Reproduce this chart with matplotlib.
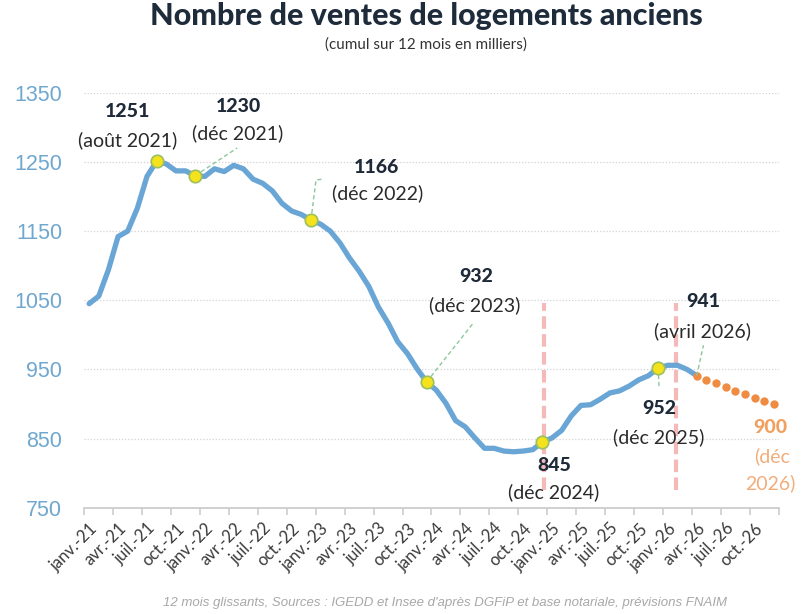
import matplotlib
matplotlib.use('Agg')
import matplotlib.pyplot as plt
import numpy as np

plt.rcParams['font.family'] = ['Lato', 'DejaVu Sans']

# tick labels every quarter, jan 2021 -> oct 2026
mois = []
for an in range(21, 27):
    for m in ['janv.', 'avr.', 'juil.', 'oct.']:
        mois.append(f"{m}-{an}")

# cumul 12 mois (milliers), janv. 2021 -> avril 2026
ventes = [1045, 1056, 1094, 1142, 1150, 1183, 1229, 1251, 1247, 1237, 1237, 1230,
          1229, 1240, 1236, 1245, 1240, 1225, 1219, 1208, 1190, 1179, 1174, 1166,
          1160, 1150, 1133, 1111, 1092, 1070, 1040, 1017, 990, 973, 951, 932,
          920, 901, 876, 867, 851, 836, 836, 832, 831, 832, 834, 845,
          851, 862, 883, 898, 899, 907, 916, 919, 926, 935, 941, 952,
          956, 956, 950, 941]

# prévision FNAIM, avril 2026 -> déc 2026
prevision = [941, 935, 930, 924, 919, 915, 909, 905, 900]
debut_prev = 63

# points annotés (index du mois)
points_jaunes = [7, 11, 23, 35, 47, 59]
notes_valeur = ['1251', '1230', '1166', '932', '845', '952', '941']
notes_date = ['(août 2021)', '(déc 2021)', '(déc 2022)', '(déc 2023)',
              '(déc 2024)', '(déc 2025)', '(avril 2026)']
# positions des textes (mois, valeur) : chiffre, puis date
pos_valeur = [(3.98, 1323), (15.44, 1330), (29.77, 1242), (40.1, 1085),
              (48.2, 811), (59.1, 894), (63.7, 1048)]
pos_date = [(3.98, 1282), (15.44, 1291), (29.9, 1205), (40.0, 1043),
            (48.2, 772), (59.1, 852), (63.6, 1005)]

navy = '#1e2a38'
bleu = '#6aa6d5'
orange = '#ef8c42'

fig = plt.figure(figsize=(8.1, 6.14), dpi=100)
ax = fig.add_axes([84.3 / 810, 106.2 / 614, 694.4 / 810, 415.1 / 614])

ax.set_xlim(-0.5, 71.5)
ax.set_ylim(750, 1350)

# grille et axes
ax.set_yticks(range(750, 1351, 100))
ax.yaxis.grid(True, linestyle=(0, (1, 1.5)), color='#d3d3d3', lw=0.9)
ax.set_axisbelow(True)
for s in ['top', 'right', 'left']:
    ax.spines[s].set_visible(False)
ax.spines['bottom'].set_color('#cdcdcd')
ax.spines['bottom'].set_linewidth(1.3)

ax.tick_params(axis='y', length=0, pad=16, labelsize=15.5, labelcolor='#6fa7cf')
for lbl in ax.get_yticklabels():
    lbl.set_family('Liberation Sans')

ax.set_xticks(np.arange(-0.5, 72, 3))
ax.set_xticklabels([])
ax.tick_params(axis='x', which='major', length=5, color='#cdcdcd', width=1.2)
ax.set_xticks(np.arange(0, 72, 3), minor=True)
ax.set_xticklabels(mois, minor=True, rotation=45, ha='right', va='top',
                   rotation_mode='anchor')
ax.tick_params(axis='x', which='minor', length=0, pad=9, labelsize=12,
               labelcolor='#3a3a3a')

# lignes verticales roses
ax.vlines([47.2, 60.9], 776, 1046, colors='#f5b9b9', lw=3,
          linestyles=(0, (3, 1.3)), zorder=2)

# courbe
x = np.arange(len(ventes))
ax.plot(x, ventes, color=bleu, lw=3.8, solid_capstyle='round',
        solid_joinstyle='round', zorder=3)

# prévision en pointillés
xp = np.arange(debut_prev, debut_prev + len(prevision))
ax.plot(xp, prevision, ls='none', marker='o', ms=5, color=orange, zorder=4)

# points jaunes
ax.plot(points_jaunes, [ventes[i] for i in points_jaunes], ls='none', marker='o',
        ms=9, mfc='#f4e21c', mec='#9cc05f', mew=1.2, zorder=5)

# traits de rappel
vert = '#8cc79c'
rappel = [(11, [(15.34, 1270)]),
          (23, [(23.53, 1224), (24.25, 1225)]),
          (35, [(39.83, 1017)]),
          (59, [(59.1, 923)]),
          (63, [(63.7, 985)])]
for i, pts in rappel:
    xs = [i] + [p[0] for p in pts]
    ys = [ventes[i]] + [p[1] for p in pts]
    ax.plot(xs, ys, color=vert, lw=1, dashes=(3, 2), zorder=4)

# annotations
for v, d, pv, pd in zip(notes_valeur, notes_date, pos_valeur, pos_date):
    ax.text(pv[0], pv[1], v, ha='center', va='center', fontsize=14,
            fontweight='black', color=navy, zorder=6)
    ax.text(pd[0], pd[1], d, ha='center', va='center', fontsize=14,
            color='#2a2a2a', zorder=6)

ax.text(70.6, 866, str(prevision[-1]), ha='center', va='center', fontsize=14,
        fontweight='black', color='#f0a060', zorder=6)
ax.text(70.85, 824, '(déc', ha='center', va='center', fontsize=14,
        color='#f2ad7a', zorder=6)
ax.text(70.6, 786, '2026)', ha='center', va='center', fontsize=14,
        color='#f2ad7a', zorder=6)

# titres
fig.text(426 / 810, 1 - 16 / 614, 'Nombre de ventes de logements anciens',
         ha='center', va='center', fontsize=22, fontweight='black', color='#1d2b3b')
fig.text(426 / 810, 1 - 45 / 614, '(cumul sur 12 mois en milliers)',
         ha='center', va='center', fontsize=11, color='#333333')
fig.text(445 / 810, 1 - 603 / 614,
         "12 mois glissants, Sources : IGEDD et Insee d'après DGFiP et base notariale, prévisions FNAIM",
         ha='center', va='center', fontsize=9.5, style='italic', color='#a8a8a8',
         family='Liberation Sans')

fig.savefig('out.png', dpi=100)
